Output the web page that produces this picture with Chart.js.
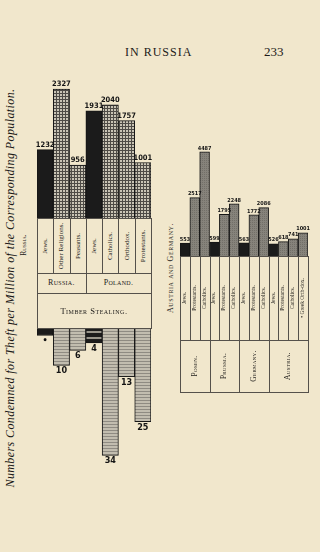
<!DOCTYPE html>
<html>
<head>
<meta charset="utf-8">
<script src="https://cdn.jsdelivr.net/npm/chart.js@4.4.1/dist/chart.umd.min.js"></script>
<style>
html, body { margin: 0; padding: 0; }
body {
	width: 320px; height: 552px; position: relative; overflow: hidden;
	background: #f1e7cc; color: #1c1a18;
	font-family: "Liberation Serif", "DejaVu Serif", serif;
}
canvas { position: absolute; }
.txt { position: absolute; white-space: nowrap; line-height: 1; }
.up { position: absolute; white-space: nowrap; line-height: 1; transform: translate(-50%, -50%) rotate(-90deg); }
.cell { position: absolute; box-sizing: border-box; border: 1px solid #55514b; }
</style>
</head>
<body>
<div class="txt" style="left:125px; top:46px; font-size:12px; letter-spacing:1px">IN RUSSIA</div>
<div class="txt" style="left:264px; top:45px; font-size:13px">233</div>
<div class="up" style="left:10px; top:288px; font-style:italic; font-size:12px; letter-spacing:0.4px">Numbers Condemned for Theft per Million of the Corresponding Population.</div>
<div class="up" style="left:24px; top:245px; font-variant:small-caps; font-size:7.5px">Russia.</div>
<div class="up" style="left:171px; top:268px; font-variant:small-caps; font-size:8px; letter-spacing:0.6px">Austria and Germany.</div>

<canvas id="ruUp" width="124" height="158" style="left:32px; top:60px"></canvas>
<canvas id="ruDown" width="124" height="150" style="left:32px; top:328px"></canvas>
<canvas id="deBars" width="136" height="116" style="left:176px; top:140px"></canvas>

<script>
var ruCats = ['Jews.', 'Other Religions.', 'Peasants.', 'Jews.', 'Catholics.', 'Orthodox.', 'Protestants.'];
var ruRegions = ['Russia.', 'Poland.'];
var ruRegionSpan = [3, 4];
var ruTheft = [1232, 2327, 956, 1931, 2040, 1757, 1001];
var ruTimber = [2, 10, 6, 4, 34, 13, 25];
var ruTimberText = ['•', '10', '6', '4', '34', '13', '25'];
var timberTitle = 'Timber Stealing.';

var deCats = ['Jews.', 'Protestants.', 'Catholics.', 'Jews.', 'Protestants.', 'Catholics.', 'Jews.', 'Protestants.', 'Catholics.', 'Jews.', 'Protestants.', 'Catholics.', '• Greek Orth-dox.'];
var deRegions = ['Posen.', 'Prussia.', 'Germany.', 'Austria.'];
var deRegionSpan = [3, 3, 3, 4];
var deTheft = [553, 2517, 4487, 599, 1795, 2248, 563, 1772, 2086, 526, 618, 741, 1001];

function makePattern(w, h, draw){
	var c = document.createElement('canvas');
	c.width = w; c.height = h;
	var g = c.getContext('2d');
	draw(g);
	return g.createPattern(c, 'repeat');
}

var gridFill = makePattern(3, 3, function(g){
	g.fillStyle = '#c9c4b5'; g.fillRect(0, 0, 3, 3);
	g.fillStyle = '#4e4b46'; g.fillRect(0, 0, 3, 1); g.fillRect(0, 0, 1, 3);
});
var hatchFill = makePattern(1, 3, function(g){
	g.fillStyle = '#c2bdaf'; g.fillRect(0, 0, 1, 3);
	g.fillStyle = '#8f8b82'; g.fillRect(0, 0, 1, 1);
});
var blackHatch = makePattern(1, 6, function(g){
	g.fillStyle = '#1c1c1c'; g.fillRect(0, 0, 1, 6);
	g.fillStyle = '#9a968c'; g.fillRect(0, 3, 1, 2);
});
var greyFill = makePattern(2, 2, function(g){
	g.fillStyle = '#86837b'; g.fillRect(0, 0, 2, 2);
	g.fillStyle = '#726f68'; g.fillRect(0, 0, 1, 1);
});

var valueLabels = {
	id: 'valueLabels',
	afterDatasetsDraw: function(chart, args, opts){
		var ctx = chart.ctx;
		ctx.save();
		ctx.font = opts.font;
		ctx.fillStyle = '#141414';
		ctx.textAlign = 'center';
		ctx.textBaseline = opts.below ? 'top' : 'bottom';
		chart.getDatasetMeta(0).data.forEach(function(bar, i){
			ctx.fillText(opts.texts[i], bar.x, opts.below ? bar.y + 1 : bar.y - 1);
		});
		ctx.restore();
	}
};

function barChart(id, cats, values, fills, max, reverse, texts, font, side){
	return new Chart(document.getElementById(id), {
		type: 'bar',
		data: {
			labels: cats,
			datasets: [{
				data: values,
				backgroundColor: fills,
				borderColor: '#161616',
				borderWidth: 1,
				categoryPercentage: 1,
				barPercentage: 1
			}]
		},
		options: {
			responsive: false,
			animation: false,
			events: [],
			layout: { padding: { left: side, right: side, top: 0, bottom: 0 } },
			scales: {
				x: { display: false },
				y: { display: false, min: 0, max: max, reverse: reverse }
			},
			plugins: {
				legend: { display: false },
				tooltip: { enabled: false },
				valueLabels: { texts: texts, font: font, below: reverse }
			}
		},
		plugins: [valueLabels]
	});
}

var ruUpFills = ruCats.map(function(c){ return c == 'Jews.' ? '#1b1b1b' : gridFill; });
var ruDownFills = ruCats.map(function(c, i){
	if(c != 'Jews.') return hatchFill;
	return i == 0 ? '#1b1b1b' : blackHatch;
});
var deFills = deCats.map(function(c){ return c == 'Jews.' ? '#1b1b1b' : greyFill; });

var narrow = '"Liberation Sans Narrow", "DejaVu Sans Condensed", sans-serif';
var ruUp = barChart('ruUp', ruCats, ruTheft, ruUpFills, 2850, false,
	ruTheft.map(String), 'bold 7.5px ' + narrow, 5);
var ruDown = barChart('ruDown', ruCats, ruTimber, ruDownFills, 40, true,
	ruTimberText, 'bold 9px ' + narrow, 5);
var deBars = barChart('deBars', deCats, deTheft, deFills, 5000, false,
	deTheft.map(String), 'bold 5.5px ' + narrow, 4);

function addCell(x0, x1, top, h){
	var d = document.createElement('div');
	d.className = 'cell';
	d.style.left = Math.round(x0) + 'px';
	d.style.top = top + 'px';
	d.style.width = (Math.round(x1) - Math.round(x0) + 1) + 'px';
	d.style.height = (h + 1) + 'px';
	document.body.appendChild(d);
	return d;
}

function addText(cls, str, cx, cy, css){
	var t = document.createElement('div');
	t.className = cls;
	t.appendChild(document.createTextNode(str));
	t.style.left = cx + 'px';
	t.style.top = cy + 'px';
	if(cls == 'txt') t.style.transform = 'translate(-50%, -50%)';
	for(var k in css) t.style[k] = css[k];
	document.body.appendChild(t);
}

function buildTable(chart, left, cats, regions, spans, catTop, catH, regH, catFont, regFont, regUp){
	var bars = chart.getDatasetMeta(0).data;
	var edges = bars.map(function(b){ return [left + b.x - b.width / 2, left + b.x + b.width / 2]; });
	cats.forEach(function(c, i){
		addCell(edges[i][0], edges[i][1], catTop, catH);
		addText('up', c, (edges[i][0] + edges[i][1]) / 2, catTop + catH / 2, {fontSize: catFont});
	});
	var k = 0;
	regions.forEach(function(r, j){
		var a = edges[k][0], b = edges[k + spans[j] - 1][1];
		addCell(a, b, catTop + catH, regH);
		addText(regUp ? 'up' : 'txt', r, (a + b) / 2, catTop + catH + regH / 2,
			{fontSize: regFont, fontVariant: 'small-caps', letterSpacing: '0.3px'});
		k += spans[j];
	});
	return edges;
}

var ruEdges = buildTable(ruUp, 32, ruCats, ruRegions, ruRegionSpan, 218, 55, 20, '7px', '8px', false);
addCell(ruEdges[0][0], ruEdges[ruEdges.length - 1][1], 293, 35);
addText('txt', timberTitle, (ruEdges[0][0] + ruEdges[ruEdges.length - 1][1]) / 2, 311,
	{fontSize: '8.5px', fontVariant: 'small-caps', letterSpacing: '0.5px'});

buildTable(deBars, 176, deCats, deRegions, deRegionSpan, 256, 84, 52, '5.5px', '7.5px', true);
</script>
</body>
</html>
